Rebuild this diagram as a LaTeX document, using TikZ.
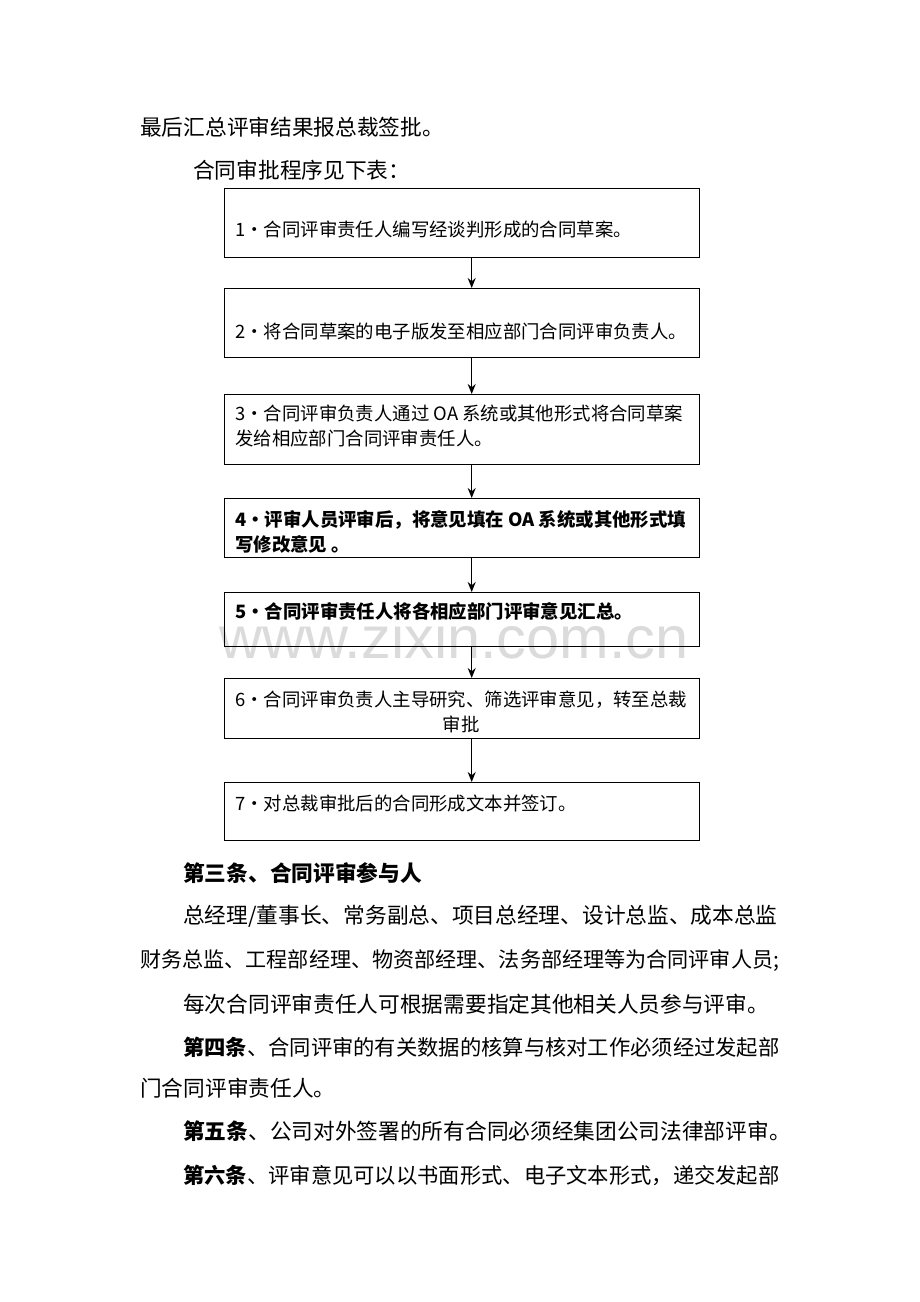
\documentclass[tikz,border=0pt]{standalone}
\usepackage{fontspec}
\newfontfamily\cjk{Noto Sans CJK SC}
\newfontfamily\wmfont{Liberation Sans}
\usetikzlibrary{arrows.meta}
\begin{document}
\begin{tikzpicture}[x=1pt,y=-1pt,
  every node/.style={font=\cjk},
  body/.style={anchor=west,inner sep=0pt,font=\cjk\fontsize{21.7}{25}\selectfont},
  bodynarrow/.style={body,font=\cjk\fontsize{21.3}{25}\selectfont},
  flowbox/.style={draw,line width=1.4pt,minimum width=475pt,inner sep=0pt,anchor=north west},
  boxtext/.style={anchor=west,inner sep=0pt,align=left,font=\cjk\fontsize{18.4}{25.5}\selectfont},
  boldtext/.style={boxtext,font=\cjk\bfseries\fontsize{18.4}{25.5}\selectfont},
  flowarrow/.style={line width=1.5pt,-{Stealth[length=10pt,width=8pt]}}]
\useasboundingbox (0,0) rectangle (920,1302);
\fill[white] (0,0) rectangle (920,1302);

% intro lines
\node[body] (l1) at (140,127) {最后汇总评审结果报总裁签批。};
\node[body] (l2) at (193,170) {合同审批程序见下表：};

% watermark
\node[anchor=base,inner sep=0pt,text=black!14,font=\wmfont\fontsize{59.5}{60}\selectfont] (wm) at (454,658) {www.zixin.com.cn};

% boxes
\node[flowbox,minimum height=69pt] (b1) at (224,188) {};
\node[flowbox,minimum height=69pt] (b2) at (224,288) {};
\node[flowbox,minimum height=70pt] (b3) at (224,394) {};
\node[flowbox,minimum height=59pt] (b4) at (224,498) {};
\node[flowbox,minimum height=54pt] (b5) at (224,592) {};
\node[flowbox,minimum height=60pt] (b6) at (224,678) {};
\node[flowbox,minimum height=58pt] (b7) at (224,782) {};

% box texts
\node[boxtext] (t1) at (235,230) {1・合同评审责任人编写经谈判形成的合同草案。};
\node[boxtext] (t2) at (235,331) {2・将合同草案的电子版发至相应部门合同评审负责人。};
\node[boxtext] (t3) at (235,426) {3・合同评审负责人通过 OA 系统或其他形式将合同草案\\发给相应部门合同评审责任人。};
\node[boldtext] (t4) at (235,532) {4・评审人员评审后，将意见填在 OA 系统或其他形式填\\写修改意见 。};
\node[boldtext] (t5) at (235,611) {5・合同评审责任人将各相应部门评审意见汇总。};
\node[boxtext,align=center] (t6) at (235,712) {6・合同评审负责人主导研究、筛选评审意见，转至总裁\\审批};
\node[boxtext] (t7) at (235,803) {7・对总裁审批后的合同形成文本并签订。};

% arrows (slightly right of the box centres, as drawn)
\draw[flowarrow] ([xshift=9.5pt]b1.south) -- ([xshift=9.5pt]b2.north);
\draw[flowarrow] ([xshift=9.5pt]b2.south) -- ([xshift=9.5pt]b3.north);
\draw[flowarrow] ([xshift=9.5pt]b3.south) -- ([xshift=9.5pt]b4.north);
\draw[flowarrow] ([xshift=9.5pt]b4.south) -- ([xshift=9.5pt]b5.north);
\draw[flowarrow] ([xshift=9.5pt]b5.south) -- ([xshift=9.5pt]b6.north);
\draw[flowarrow] ([xshift=9.5pt]b6.south) -- ([xshift=9.5pt]b7.north);

% following text
\node[body,font=\cjk\bfseries\fontsize{21.7}{25}\selectfont] (p1) at (183,873) {第三条、合同评审参与人};
\node[body] (p2) at (183,916) {总经理/董事长、常务副总、项目总经理、设计总监、成本总监};
\node[body,font=\cjk\fontsize{21.1}{25}\selectfont] (p3) at (140,961) {财务总监、工程部经理、物资部经理、法务部经理等为合同评审人员;};
\node[body] (p4) at (183,1004) {每次合同评审责任人可根据需要指定其他相关人员参与评审。};
\node[bodynarrow] (p5) at (183,1047) {{\bfseries 第四条}、合同评审的有关数据的核算与核对工作必须经过发起部};
\node[body] (p6) at (140,1088) {门合同评审责任人。};
\node[body] (p7) at (183,1131) {{\bfseries 第五条}、公司对外签署的所有合同必须经集团公司法律部评审。};
\node[bodynarrow] (p8) at (183,1175) {{\bfseries 第六条}、评审意见可以以书面形式、电子文本形式，递交发起部};
\end{tikzpicture}
\end{document}
